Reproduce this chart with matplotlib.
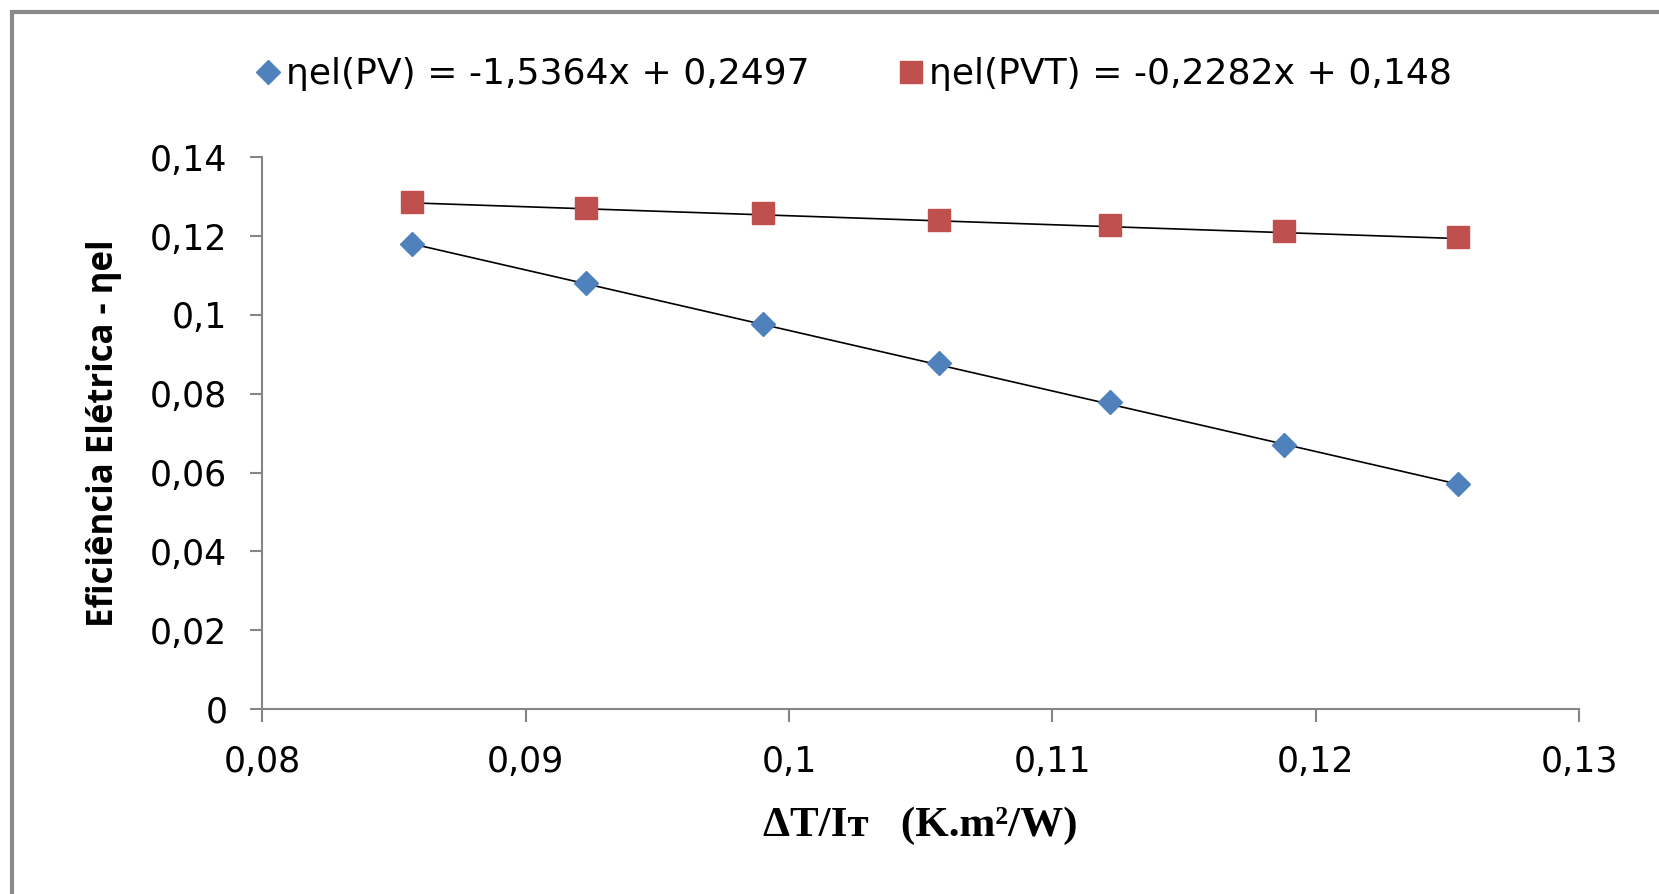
import numpy as np
import matplotlib.pyplot as plt
from matplotlib.patches import Rectangle
from matplotlib.ticker import FuncFormatter

# dados
x_dt = [0.0857, 0.0923, 0.0990, 0.1057, 0.1122, 0.1188, 0.1254]
eta_pv = [0.1180, 0.1081, 0.0976, 0.0877, 0.0778, 0.0670, 0.0571]
eta_pvt = [0.1287, 0.1271, 0.1258, 0.1242, 0.1228, 0.1212, 0.1199]
coef_pv = [-1.5364, 0.2497]
coef_pvt = [-0.2282, 0.148]
lbl_pv = "ηel(PV) = -1,5364x + 0,2497"
lbl_pvt = "ηel(PVT) = -0,2282x + 0,148"
xticks = [0.08, 0.09, 0.10, 0.11, 0.12, 0.13]
yticks = [0, 0.02, 0.04, 0.06, 0.08, 0.10, 0.12, 0.14]

plt.rcParams['font.family'] = ['DejaVu Sans']

fig = plt.figure(figsize=(16.59, 8.94), dpi=100)
ax = fig.add_axes([0.158, 0.207, 0.794, 0.617])

xs = np.array([min(x_dt), max(x_dt)])
ax.plot(xs, np.polyval(coef_pv, xs), color='black', lw=1.2, zorder=2)
ax.plot(xs, np.polyval(coef_pvt, xs), color='black', lw=1.2, zorder=2)
ax.plot(x_dt, eta_pv, ls='none', marker='D', ms=12, color='#4F81BD', label=lbl_pv, zorder=3)
ax.plot(x_dt, eta_pvt, ls='none', marker='s', ms=16, color='#C0504D', label=lbl_pvt, zorder=3)

ax.set_xlim(0.08, 0.13)
ax.set_ylim(0, 0.14)
ax.set_xticks(xticks)
ax.set_yticks(yticks)
fmt = FuncFormatter(lambda v, p: ('%g' % round(v, 4)).replace('.', ','))
ax.xaxis.set_major_formatter(fmt)
ax.yaxis.set_major_formatter(fmt)
ax.tick_params(labelsize=25, length=9, width=1.5, color='#868686')
ax.tick_params(axis='x', pad=17)
ax.tick_params(axis='y', pad=16)
for s in ['top', 'right']:
    ax.spines[s].set_visible(False)
for s in ['left', 'bottom']:
    ax.spines[s].set_color('#868686')
    ax.spines[s].set_linewidth(1.5)

ax.set_ylabel('Eficiência Elétrica - ηel', fontsize=25, fontweight='bold',
              family=['Open Sans', 'DejaVu Sans'], labelpad=20)
ax.set_xlabel('ΔT/Iᴛ   (K.m²/W)', fontsize=31, fontweight='bold',
              family=['Liberation Serif', 'DejaVu Serif'], labelpad=20)

fig.legend(loc='center', bbox_to_anchor=(0.514, 0.917), ncol=2, frameon=False,
           fontsize=26, handletextpad=0.1, columnspacing=2.4, handlelength=0.8)

fig.patches.append(Rectangle((0.0072, -0.05), 1.1, 1.0366, transform=fig.transFigure,
                             fill=False, edgecolor='#8a8a8a', lw=3))

fig.savefig('out.png', dpi=100)
